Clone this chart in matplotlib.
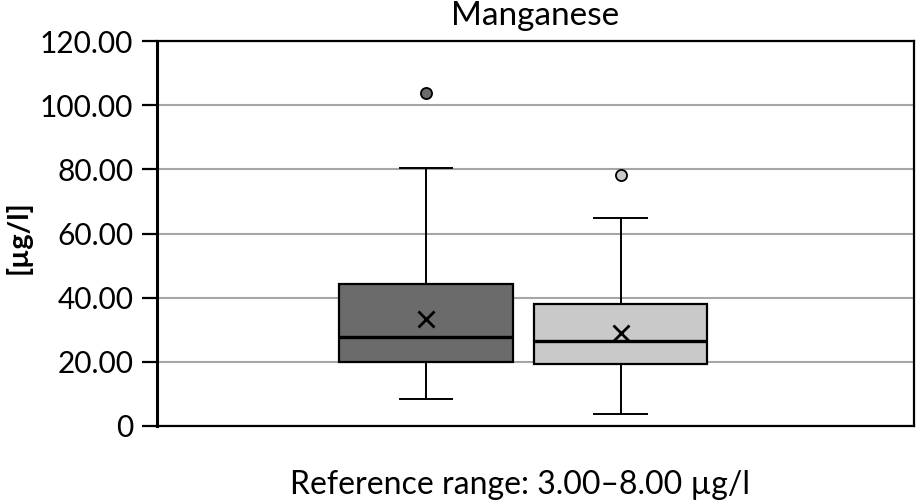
import matplotlib
matplotlib.use("Agg")
import matplotlib.pyplot as plt
from matplotlib.ticker import FuncFormatter

# values (two groups)
groups = ["Group 1", "Group 2"]
q1 = [19.8, 19.4]
median = [27.8, 26.3]
q3 = [44.2, 38.1]
whisker_low = [8.3, 3.6]
whisker_high = [80.3, 64.9]
means = [33.2, 29.0]
outliers = [[103.8], [78.3]]
box_colors = ["#6b6b6b", "#c9c9c9"]

plt.rcParams['font.family'] = ['Lato', 'DejaVu Sans']

fig = plt.figure(figsize=(9.16, 5.01), dpi=100)
ax = fig.add_axes([157 / 916, 1 - 425.7 / 501, (914 - 157) / 916, (425.7 - 41.3) / 501])

stats = []
for i in range(len(groups)):
    stats.append(dict(label=groups[i], q1=q1[i], med=median[i], q3=q3[i],
                      whislo=whisker_low[i], whishi=whisker_high[i],
                      mean=means[i], fliers=outliers[i]))

positions = [1, 2]
for i, s in enumerate(stats):
    ax.bxp([s], positions=[positions[i]], widths=0.889, patch_artist=True,
           showmeans=True, manage_ticks=False,
           boxprops=dict(facecolor=box_colors[i], edgecolor="black", linewidth=1.6),
           medianprops=dict(color="black", linewidth=2.4),
           whiskerprops=dict(color="black", linewidth=1.4),
           capprops=dict(color="black", linewidth=1.4),
           capwidths=0.27,
           meanprops=dict(marker="x", markeredgecolor="black", markersize=11,
                          markeredgewidth=2),
           flierprops=dict(marker="o", markerfacecolor=box_colors[i],
                           markeredgecolor="black", markersize=8, markeredgewidth=1.3),
           zorder=3)

ax.set_xlim(-0.382, 3.507)
ax.set_ylim(0, 120)
ax.set_yticks([0, 20, 40, 60, 80, 100, 120])
ax.yaxis.set_major_formatter(FuncFormatter(lambda v, p: "0" if v == 0 else "%.2f" % v))
ax.set_xticks([])
ax.yaxis.grid(True, color="#a6a6a6", linewidth=1.5, zorder=0)
ax.set_axisbelow(True)

for side in ["top", "right", "bottom"]:
    ax.spines[side].set_linewidth(1.6)
ax.spines["left"].set_linewidth(2.2)
ax.tick_params(axis="y", labelsize=21.5, length=11, width=1.6, pad=6, colors="black")

ax.set_ylabel("[µg/l]", fontsize=21, fontweight="bold")
ax.yaxis.set_label_coords(-0.166, 0.49)
ax.set_xlabel("Reference range: 3.00–8.00 µg/l", fontsize=23)
ax.xaxis.set_label_coords(0.48, -0.115)
ax.xaxis.label.set_va("top")
ax.set_title("Manganese", fontsize=24, pad=12)

fig.savefig("out.png", dpi=100)
